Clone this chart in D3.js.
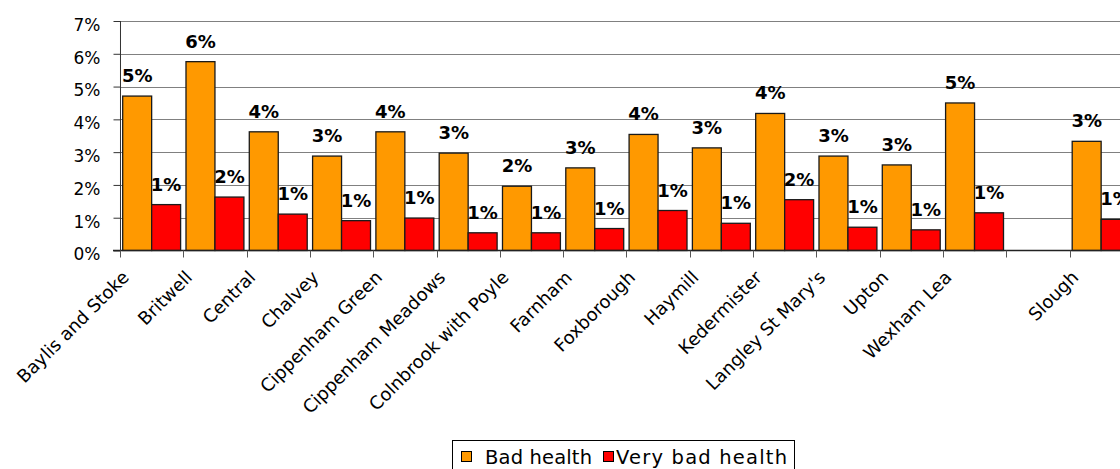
<!DOCTYPE html>
<html>
<head>
<meta charset="utf-8">
<script src="https://cdn.jsdelivr.net/npm/d3@7"></script>
<style>
  html, body { margin: 0; padding: 0; background: #fff; }
  svg { display: block; font-family: "DejaVu Sans", Verdana, sans-serif; }
</style>
</head>
<body>
<svg id="chart" width="1120" height="469"></svg>
<script>
// Ward names (the empty entry leaves a gap before the borough total)
const categories = [
  "Baylis and Stoke", "Britwell", "Central", "Chalvey", "Cippenham Green",
  "Cippenham Meadows", "Colnbrook with Poyle", "Farnham", "Foxborough",
  "Haymill", "Kedermister", "Langley St Mary's", "Upton", "Wexham Lea",
  "", "Slough"
];
const seriesNames = ["Bad health", "Very bad health"];
const badHealth = [
  0.0471, 0.0576, 0.0362, 0.0288, 0.0362, 0.0297, 0.0196, 0.0252, 0.0354,
  0.0313, 0.0418, 0.0288, 0.0261, 0.0450, null, 0.0333
];
const veryBadHealth = [
  0.0140, 0.0163, 0.0111, 0.0091, 0.0099, 0.0054, 0.0054, 0.0067, 0.0122,
  0.0083, 0.0155, 0.0071, 0.0063, 0.0115, null, 0.0095
];
const yTicks = [0, 0.01, 0.02, 0.03, 0.04, 0.05, 0.06, 0.07];
const colors = ["#FF9900", "#FF0000"];

const svg = d3.select("#chart");
const plotLeft = 120, band = 63.3;
const plotRight = plotLeft + band * categories.length;
const plotTop = 21, plotBottom = 250.5;

const x0 = d3.scaleBand()
  .domain(d3.range(categories.length))
  .range([plotLeft, plotRight])
  .paddingInner(0.085)
  .paddingOuter(0.0425);
const x1 = d3.scaleBand().domain([0, 1]).range([0, x0.bandwidth()]);
const y = d3.scaleLinear().domain([0, 0.07]).range([plotBottom, plotTop]);
const pct = d3.format(".0%");

// gridlines
svg.append("g")
  .selectAll("line")
  .data(yTicks.filter(d => d > 0))
  .join("line")
  .attr("x1", plotLeft).attr("x2", plotRight)
  .attr("y1", d => Math.round(y(d)) + 0.5)
  .attr("y2", d => Math.round(y(d)) + 0.5)
  .attr("stroke", "#808080")
  .attr("stroke-width", 1.2);

// y axis
const yAxis = svg.append("g")
  .attr("transform", `translate(${plotLeft + 0.5},0)`)
  .call(d3.axisLeft(y).tickValues(yTicks).tickFormat(pct).tickSize(7).tickPadding(13));
yAxis.select(".domain").attr("stroke", "#333").attr("d", `M-0.01,${y(0.07)}V${plotBottom}`);
yAxis.selectAll(".tick line").attr("stroke", "#333");
yAxis.selectAll(".tick text")
  .attr("font-size", 17)
  .attr("font-family", "DejaVu Sans, Verdana, sans-serif")
  .attr("fill", "#000")
  .attr("dy", "0.55em");

// bars
const series = [badHealth, veryBadHealth];
const groups = svg.append("g")
  .selectAll("g")
  .data(categories.map((c, i) => ({ c, i })))
  .join("g")
  .attr("transform", d => `translate(${x0(d.i)},0)`);

groups.selectAll("rect")
  .data(d => series.map((s, k) => ({ k, v: s[d.i] })).filter(e => e.v != null))
  .join("rect")
  .attr("x", e => x1(e.k))
  .attr("width", x1.bandwidth())
  .attr("y", e => y(e.v))
  .attr("height", e => plotBottom - y(e.v))
  .attr("fill", e => colors[e.k])
  .attr("stroke", "#1a1a1a")
  .attr("stroke-width", 1.3);

groups.selectAll("text")
  .data(d => series.map((s, k) => ({ k, v: s[d.i] })).filter(e => e.v != null))
  .join("text")
  .attr("x", e => x1(e.k) + x1.bandwidth() / 2)
  .attr("y", e => y(e.v) - 14)
  .attr("text-anchor", "middle")
  .attr("font-size", 18)
  .attr("font-weight", "bold")
  .text(e => pct(e.v));

// x axis
const xAxis = svg.append("g").attr("transform", `translate(0,${plotBottom})`);
xAxis.append("line")
  .attr("x1", plotLeft - 7).attr("x2", plotRight)
  .attr("stroke", "#222").attr("stroke-width", 1.5);
xAxis.selectAll("line.tick")
  .data(d3.range(categories.length + 1))
  .join("line")
  .attr("class", "tick")
  .attr("x1", i => Math.round(plotLeft + i * band) + 0.5)
  .attr("x2", i => Math.round(plotLeft + i * band) + 0.5)
  .attr("y1", 0).attr("y2", 7)
  .attr("stroke", "#555");

xAxis.selectAll("text")
  .data(categories.map((c, i) => ({ c, i })))
  .join("text")
  .attr("transform", d => `translate(${plotLeft + d.i * band + 10},${28}) rotate(-45)`)
  .attr("text-anchor", "end")
  .attr("font-size", 18)
  .text(d => d.c);

// legend
const legend = svg.append("g").attr("transform", "translate(452,440)");
legend.append("rect")
  .attr("x", 0.5).attr("y", 0.5).attr("width", 342).attr("height", 40)
  .attr("fill", "#fff").attr("stroke", "#000");
const items = [
  { name: seriesNames[0], x: 9, tx: 33, w: 107 },
  { name: seriesNames[1], x: 151, tx: 164, w: 171 }
];
items.forEach((it, k) => {
  legend.append("rect")
    .attr("x", it.x + 0.5).attr("y", 11.5).attr("width", 10).attr("height", 10)
    .attr("fill", colors[k]).attr("stroke", "#000");
  legend.append("text")
    .attr("x", it.tx).attr("y", 24)
    .attr("font-size", 19.5)
    .attr("textLength", it.w)
    .attr("lengthAdjust", "spacing")
    .text(it.name);
});
</script>
</body>
</html>
